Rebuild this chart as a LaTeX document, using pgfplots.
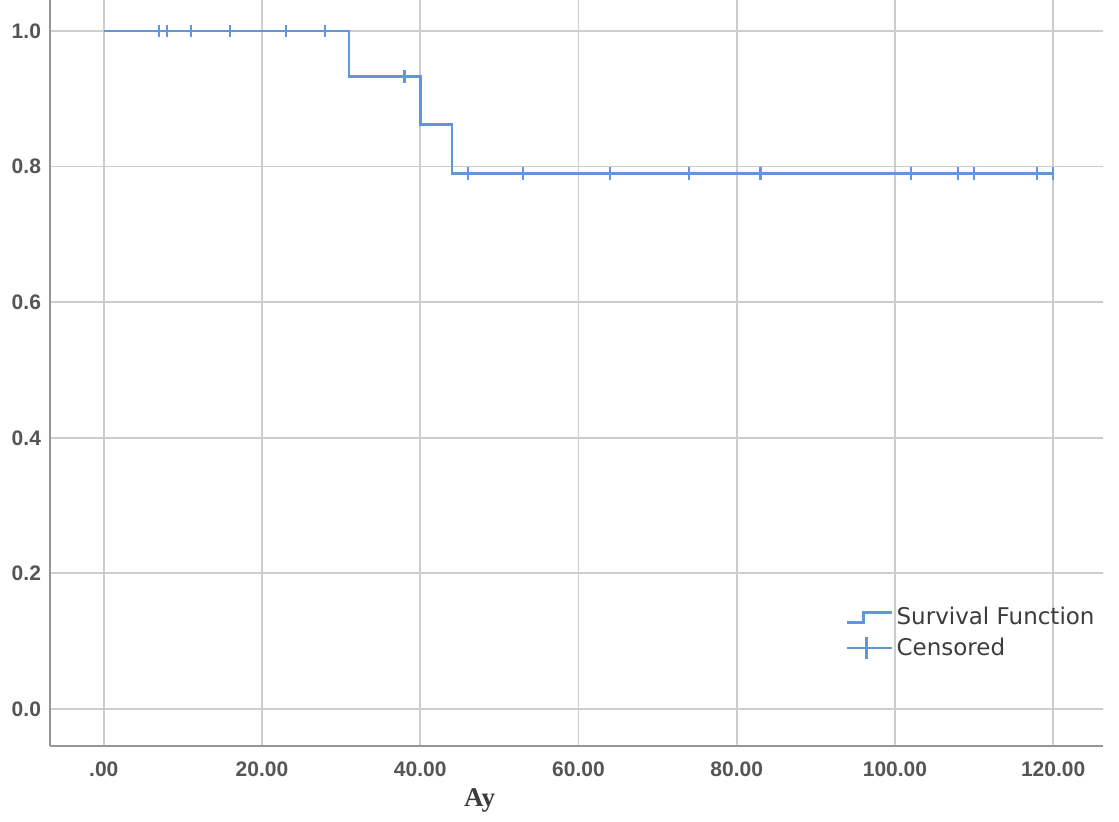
\documentclass[border=0pt]{standalone}
\usepackage{pgfplots}
\pgfplotsset{compat=1.18}
\usepackage{fontspec}
\setmainfont{Liberation Sans}
\newfontfamily\legfont{DejaVu Sans}
\newfontfamily\seriffont{Liberation Serif}
\definecolor{kmblue}{RGB}{95,150,220}
\definecolor{gridgray}{RGB}{205,205,205}
\definecolor{axgray}{RGB}{150,150,150}
\definecolor{txtgray}{RGB}{85,85,85}
\definecolor{legtxt}{RGB}{60,60,60}
\begin{document}
\begin{tikzpicture}
\begin{axis}[
  scale only axis,
  width=526.5pt, height=373pt,
  xmin=-6.8, xmax=126.3,
  ymin=-0.0546, ymax=1.0457,
  axis x line*=bottom, axis y line*=left,
  axis line style={-, draw=axgray, line width=1.4pt},
  grid=major,
  major grid style={draw=gridgray, line width=0.9pt},
  major tick length=0pt,
  xtick={0,20,40,60,80,100,120},
  xticklabels={.00,20.00,40.00,60.00,80.00,100.00,120.00},
  ytick={0,0.2,0.4,0.6,0.8,1.0},
  yticklabels={0.0,0.2,0.4,0.6,0.8,1.0},
  /pgf/number format/assume math mode=true,
  tick label style={font=\bfseries\fontsize{10.5}{12}\selectfont, text=txtgray},
  xticklabel style={yshift=-4.5pt},
  yticklabel style={xshift=-1pt},
  xlabel={Ay},
  xlabel style={at={(rel axis cs:0.408,0)}, anchor=center, yshift=-27pt, font=\seriffont\bfseries\fontsize{13.5}{15}\selectfont, text=legtxt},
  legend style={draw=none, fill=none, at={(rel axis cs:0.755,0.192)}, anchor=north west,
    font=\legfont\fontsize{11.5}{13}\selectfont, text=legtxt, inner sep=0pt, row sep=1pt,
    /tikz/every even column/.append style={column sep=2pt}},
  legend cell align=left,
]
\addplot[kmblue, line width=1.4pt, const plot, mark=none,
  legend image code/.code={
    \draw[kmblue, line width=1.1pt] (0pt,-2.5pt) -- (8.5pt,-2.5pt) -- (8.5pt,2.5pt) -- (22.5pt,2.5pt);
  }] coordinates {
  (0,1) (31,0.9333) (40,0.8615) (44,0.7897) (120,0.7897)
};
\addlegendentry{Survival Function}
\addplot[kmblue, only marks, mark=|, mark size=3.2pt, mark options={line width=1.1pt},
  legend image code/.code={
    \draw[kmblue, line width=1.1pt] (0pt,0pt) -- (22.5pt,0pt);
    \draw[kmblue, line width=1.1pt] (10pt,-5.5pt) -- (10pt,5.5pt);
  }] coordinates {
  (7,1) (8,1) (11,1) (16,1) (23,1) (28,1)
  (38,0.9333)
  (46,0.7897) (53,0.7897) (64,0.7897) (74,0.7897) (83,0.7897)
  (102,0.7897) (108,0.7897) (110,0.7897) (118,0.7897) (120,0.7897)
};
\addlegendentry{Censored}
\end{axis}
\pgfresetboundingbox
\path ([xshift=-25pt,yshift=-37.5pt]current axis.south west) rectangle ++(559.5pt,410.5pt);
\end{tikzpicture}
\end{document}
